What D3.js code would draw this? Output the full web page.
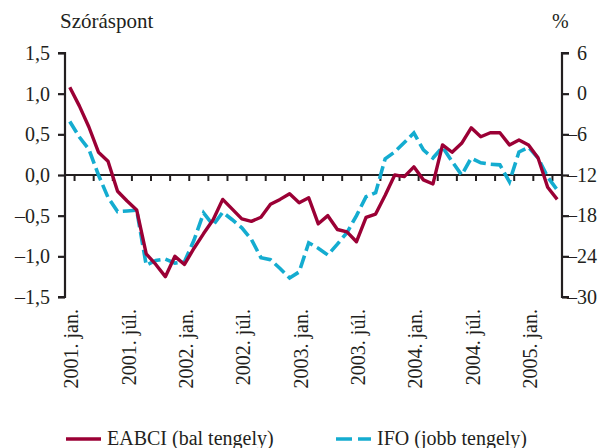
<!DOCTYPE html>
<html>
<head>
<meta charset="utf-8">
<script src="https://cdn.jsdelivr.net/npm/d3@7"></script>
<style>
  body { margin: 0; background: #fff; }
</style>
</head>
<body>
<div id="chart"></div>
<script>
// Set Up Space
var svgWidth = 608;
var svgHeight = 448;
var serif = '"Liberation Serif"';

// Data: monthly, 2001 jan .. 2005 ápr
var monthNames = ["jan.", "febr.", "márc.", "ápr.", "máj.", "jún.", "júl.", "aug.", "szept.", "okt.", "nov.", "dec."];
var months = d3.range(52).map(function(i) { return new Date(2001, i, 1); });

var eabci = [1.08, 0.85, 0.59, 0.28, 0.17, -0.2, -0.32, -0.43, -0.97, -1.1,
  -1.25, -1.0, -1.1, -0.9, -0.72, -0.55, -0.3, -0.42, -0.54, -0.57,
  -0.52, -0.36, -0.3, -0.23, -0.34, -0.28, -0.6, -0.5, -0.67, -0.7,
  -0.82, -0.52, -0.48, -0.25, 0.0, -0.02, 0.1, -0.06, -0.11, 0.37,
  0.28, 0.39, 0.58, 0.47, 0.52, 0.52, 0.37, 0.43, 0.37, 0.21,
  -0.15, -0.3];

var ifo = [-4.1, -6.4, -8.2, -12.0, -15.3, -17.4, -17.3, -17.2, -25.3, -24.6,
  -24.4, -25.0, -24.8, -21.6, -17.6, -19.4, -17.5, -18.6, -19.8, -21.5,
  -24.2, -24.5, -25.8, -27.2, -26.3, -22.0, -22.8, -23.8, -22.2, -20.5,
  -18.0, -15.2, -14.6, -9.6, -8.6, -7.2, -5.8, -8.3, -9.5, -7.9,
  -10.0, -12.0, -9.5, -10.2, -10.4, -10.5, -13.0, -8.6, -7.9, -9.5,
  -12.3, -14.2];

var leftTicks = [1.5, 1.0, 0.5, 0.0, -0.5, -1.0, -1.5];
var rightTicks = [6, 0, -6, -12, -18, -24, -30];

var leftTitle = "Szóráspont";
var rightTitle = "%";
var seriesNames = ["EABCI (bal tengely)", "IFO (jobb tengely)"];

var red = "#9b0035";
var blue = "#14acd0";
var ink = "#231f20";

var plot = { left: 65, right: 562, top: 53, bottom: 297 };

var svg = d3.select("#chart")
  .append("svg")
  .attr("width", svgWidth)
  .attr("height", svgHeight);

// helper so every text gets the same face
function txt(sel) {
  return sel.attr("font-family", "Liberation Serif")
    .style("font-family", serif)
    .style("font-size", "20px")
    .attr("fill", ink);
}

// Scaling
var xScale = d3.scaleBand()
  .domain(d3.range(months.length))
  .range([plot.left, plot.right])
  .padding(0);
var bw = xScale.bandwidth();
var xMid = function(i) { return xScale(i) + bw / 2; };

var yLeft = d3.scaleLinear().domain([-1.5, 1.5]).range([plot.bottom, plot.top]);
var yRight = d3.scaleLinear().domain([-30, 6]).range([plot.bottom, plot.top]);

var fmtLeft = function(d) { return d3.format(".1f")(d).replace(".", ",").replace("-", "–").replace("−", "–"); };

// Left axis
var leftAxis = d3.axisLeft(yLeft).tickValues(leftTicks).tickSize(7).tickPadding(8).tickFormat(fmtLeft);
var gl = svg.append("g")
  .attr("transform", `translate(${plot.left}, 0)`)
  .call(leftAxis);

// Right axis (labels drawn separately so the digits line up)
var rightAxis = d3.axisRight(yRight).tickValues(rightTicks).tickSize(7).tickFormat("");
var gr = svg.append("g")
  .attr("transform", `translate(${plot.right}, 0)`)
  .call(rightAxis);

[gl, gr].forEach(function(g) {
  g.attr("font-family", "Liberation Serif").attr("font-size", 20);
  g.select(".domain").attr("stroke", ink).attr("stroke-width", 2.2);
  g.selectAll(".tick line").attr("stroke", ink).attr("stroke-width", 2.2);
  txt(g.selectAll(".tick text"));
});
gl.select(".domain").attr("d", `M-7,${plot.top}H0V${plot.bottom}H-7`);
gr.select(".domain").attr("d", `M7,${plot.top}H0V${plot.bottom}H7`);

txt(svg.append("g").selectAll("text")
  .data(rightTicks)
  .enter()
  .append("text")
    .attr("x", d => plot.right + (d < 0 ? 5 : 15))
    .attr("y", d => yRight(d))
    .attr("dy", "0.34em"))
    .text(d => String(d).replace("-", "–"));

// Zero line with ticks every two months
var y0 = yLeft(0);
svg.append("line")
  .attr("x1", plot.left).attr("x2", plot.right)
  .attr("y1", y0).attr("y2", y0)
  .attr("stroke", ink).attr("stroke-width", 2.2);

var tickIdx = d3.range(1, months.length, 2);
svg.append("g").selectAll("line")
  .data(tickIdx)
  .enter()
  .append("line")
    .attr("x1", d => xScale(d)).attr("x2", d => xScale(d))
    .attr("y1", y0).attr("y2", y0 + 6)
    .attr("stroke", ink).attr("stroke-width", 2);

// X labels every six months
var labelIdx = months.map((m, i) => i).filter(i => months[i].getMonth() % 6 === 0);
txt(svg.append("g").selectAll("text")
  .data(labelIdx)
  .enter()
  .append("text")
    .attr("transform", d => `translate(${xMid(d)}, 309) rotate(-90)`)
    .attr("dy", "0.42em")
    .attr("text-anchor", "end"))
    .text(d => `${months[d].getFullYear()}. ${monthNames[months[d].getMonth()]}`);

// Lines
var lineLeft = d3.line().x((d, i) => xMid(i)).y(d => yLeft(d));
var lineRight = d3.line().x((d, i) => xMid(i)).y(d => yRight(d));

svg.append("path")
  .datum(ifo)
  .attr("d", lineRight)
  .attr("fill", "none")
  .attr("stroke", blue)
  .attr("stroke-width", 3.6)
  .attr("stroke-dasharray", "13,5");

svg.append("path")
  .datum(eabci)
  .attr("d", lineLeft)
  .attr("fill", "none")
  .attr("stroke", red)
  .attr("stroke-width", 3.4)
  .attr("stroke-linejoin", "round");

// Axis titles
txt(svg.append("text").attr("x", 60).attr("y", 28)).style("font-size", "21px").text(leftTitle);
txt(svg.append("text").attr("x", 552).attr("y", 28)).text(rightTitle);

// Legend
var legend = svg.append("g");
legend.append("line")
  .attr("x1", 66).attr("x2", 101).attr("y1", 439).attr("y2", 439)
  .attr("stroke", red).attr("stroke-width", 3.6);
txt(legend.append("text").attr("x", 107).attr("y", 445)).text(seriesNames[0]);
legend.append("line")
  .attr("x1", 336).attr("x2", 371).attr("y1", 439).attr("y2", 439)
  .attr("stroke", blue).attr("stroke-width", 3.6)
  .attr("stroke-dasharray", "16,6");
txt(legend.append("text").attr("x", 377).attr("y", 445)).text(seriesNames[1]);
</script>
</body>
</html>
